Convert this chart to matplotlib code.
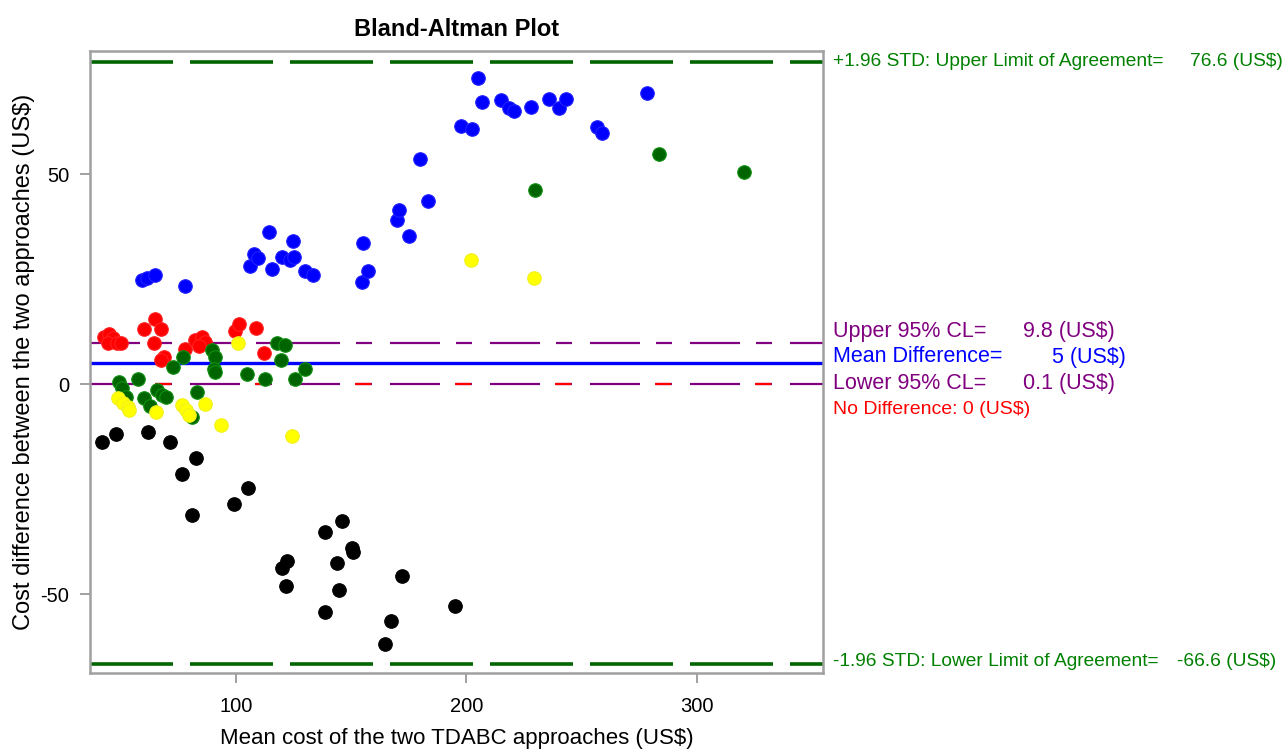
import matplotlib
matplotlib.use("Agg")
import matplotlib.pyplot as plt

plt.rcParams['font.family'] = ['Liberation Sans', 'DejaVu Sans']
plt.rcParams['lines.scale_dashes'] = False
plt.rcParams['axes.unicode_minus'] = False

# ── data ────────────────────────────────────────────────────────
blue_x = [59.1, 61.3, 64.9, 77.7, 106.1, 107.9, 109.7, 114.3, 115.5, 119.8, 123.4, 125.2,
          124.6, 130.0, 133.5, 154.8, 155.2, 157.4, 169.7, 170.6, 175.2, 180.0, 183.2,
          197.5, 202.4, 204.9, 206.7, 214.8, 218.4, 220.6, 228.0, 235.8, 240.1, 243.0,
          256.6, 258.7, 278.2]
blue_y = [24.8, 25.2, 25.9, 23.4, 28.2, 30.9, 29.9, 36.1, 27.5, 30.2, 29.5, 30.2,
          34.0, 27.0, 26.0, 24.2, 33.5, 27.0, 39.1, 41.4, 35.2, 53.6, 43.7,
          61.5, 60.8, 72.9, 67.2, 67.7, 65.8, 65.0, 66.0, 67.9, 65.7, 67.9,
          61.3, 59.8, 69.4]

red_x = [42.8, 45.0, 46.5, 44.3, 48.6, 50.0, 60.2, 64.8, 67.5, 64.3, 68.7, 67.3,
         78.0, 82.4, 85.3, 86.8, 83.9, 99.8, 101.4, 108.7, 112.1]
red_y = [11.3, 11.9, 10.9, 9.7, 9.8, 9.7, 13.1, 15.4, 13.1, 9.7, 6.5, 5.7,
         8.3, 10.5, 11.3, 10.1, 9.0, 12.7, 14.3, 13.3, 7.3]

green_x = [49.4, 50.6, 52.3, 57.4, 60.0, 62.9, 65.9, 68.1, 69.5, 72.9, 77.0, 80.9,
           83.1, 89.5, 91.1, 90.4, 91.1, 104.7, 112.7, 117.9, 121.2, 119.4, 125.7,
           130.0, 229.7, 283.4, 320.4]
green_y = [0.5, -1.0, -3.0, 1.1, -3.4, -5.2, -1.3, -2.6, -3.2, 4.0, 6.4, -7.9,
           -1.8, 8.1, 6.5, 3.7, 2.9, 2.4, 1.2, 9.7, 9.3, 5.7, 1.2,
           3.7, 46.1, 54.8, 50.4]

yellow_x = [49.0, 50.9, 53.0, 53.8, 65.5, 76.7, 78.2, 79.6, 86.7, 93.7, 100.8,
            124.5, 201.8, 229.3]
yellow_y = [-3.4, -4.6, -5.4, -6.2, -6.7, -5.0, -6.2, -7.4, -4.8, -9.8, 9.8,
            -12.3, 29.6, 25.3]

black_x = [41.7, 47.9, 61.8, 71.5, 76.6, 82.9, 80.9, 99.0, 105.1, 119.8, 122.0,
           121.7, 138.6, 138.7, 143.9, 144.7, 146.1, 150.2, 150.6, 164.6, 167.1,
           172.2, 195.0]
black_y = [-13.7, -12.0, -11.5, -13.9, -21.4, -17.5, -31.2, -28.6, -24.8, -43.9, -42.1,
           -48.0, -35.2, -54.2, -42.6, -49.1, -32.6, -39.1, -39.9, -62.0, -56.4,
           -45.8, -52.9]

mean_diff = 5
upper_cl = 9.8
lower_cl = 0.1
upper_loa = 76.6
lower_loa = -66.6

W, H = 1285, 752
fig = plt.figure(figsize=(W / 100, H / 100), dpi=100)
ax = fig.add_axes([90 / W, 1 - 673 / H, (823 - 90) / W, (673 - 51) / H])

def px(v):
    return v * 0.72  # pixels -> points

# reference lines
ax.axhline(upper_loa, color='#006400', lw=2.6, linestyle=(0, (px(83), px(17))), zorder=1)
ax.axhline(lower_loa, color='#006400', lw=2.6, linestyle=(0, (px(83), px(17))), zorder=1)
cl_dash = (0, (px(50), px(16), px(16), px(18)))
ax.axhline(upper_cl, color='#800080', lw=1.6, linestyle=cl_dash, zorder=1)
ax.axhline(lower_cl, color='#800080', lw=1.6, linestyle=cl_dash, zorder=1)
ax.axhline(0, color='#ff0000', lw=1.6, linestyle=(px(35), (px(16), px(84))), zorder=1.1)
ax.axhline(mean_diff, color='#0000ff', lw=2.4, zorder=1.2)

# points
kw = dict(s=95, zorder=3, linewidths=0.8)
ax.scatter(blue_x, blue_y, color='#0000ff', edgecolors='#2020ff', **kw)
ax.scatter(red_x, red_y, color='#ff0000', edgecolors='#ff2020', **kw)
ax.scatter(green_x, green_y, color='#006400', edgecolors='#109010', **kw)
ax.scatter(yellow_x, yellow_y, color='#ffff00', edgecolors='#f0f020', **kw)
ax.scatter(black_x, black_y, color='black', edgecolors='black', **kw)

ax.set_xlim(36.7, 354.7)
ax.set_ylim(-68.8, 79.3)
ax.set_xticks([100, 200, 300])
ax.set_yticks([-50, 0, 50])
ax.tick_params(axis='both', direction='out', length=7, width=1.2, color='#909090',
               labelsize=14.5, pad=8)
ax.tick_params(axis='x', pad=10)
for s in ax.spines.values():
    s.set_color('#a0a0a0')
    s.set_linewidth(1.8)

ax.set_xlabel('Mean cost of the two TDABC approaches (US$)', fontsize=16, labelpad=9)
ax.set_ylabel('Cost difference between the two approaches (US$)', fontsize=17, labelpad=4)
ax.set_title('Bland-Altman Plot', fontsize=17, fontweight='bold', pad=11)

# labels on the right
def lab(x, y, s, color, size):
    fig.text(x / W, 1 - y / H, s, color=color, fontsize=size, va='center', ha='left')

lab(833, 62, '+1.96 STD: Upper Limit of Agreement=', '#008000', 13.8)
lab(1190, 62, f'{upper_loa} (US$)', '#008000', 13.8)
lab(833, 662, '-1.96 STD: Lower Limit of Agreement=', '#008000', 13.8)
lab(1177, 662, f'{lower_loa} (US$)', '#008000', 13.8)
lab(833, 331, 'Upper 95% CL=', '#800080', 15.5)
lab(1023, 331, f'{upper_cl} (US$)', '#800080', 15.5)
lab(833, 357, 'Mean Difference=', '#0000ff', 15.5)
lab(1052, 357, f'{mean_diff} (US$)', '#0000ff', 15.5)
lab(833, 384, 'Lower 95% CL=', '#800080', 15.5)
lab(1023, 384, f'{lower_cl} (US$)', '#800080', 15.5)
lab(833, 409, 'No Difference: 0 (US$)', '#ff0000', 14)

fig.savefig('out.png', dpi=100)
